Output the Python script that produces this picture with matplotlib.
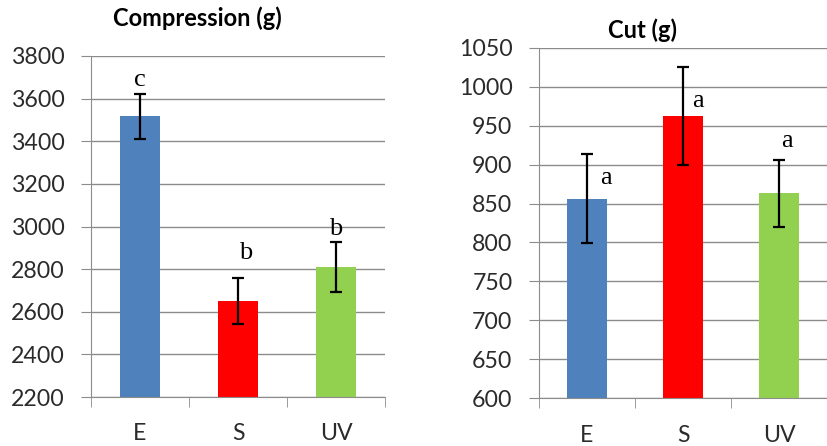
import numpy as np
import matplotlib.pyplot as plt

categorias = ['E', 'S', 'UV']
cores = ['#4F81BD', '#FF0000', '#92D050']

# Compressão (g)
compressao = [3517, 2650, 2810]
compressao_erro = [105, 107, 118]
compressao_letras = ['c', 'b', 'b']

# Corte (g)
corte = [856, 962, 863]
corte_erro = [57, 63, 43]
corte_letras = ['a', 'a', 'a']

W, H = 827, 446
fig = plt.figure(figsize=(W / 100, H / 100), dpi=100)
fonte = 'Lato'
grade = '#8c8c8c'


def eixo(rect, valores, erros, ymin, ymax, passo, xmax):
    ax = fig.add_axes(rect)
    x = np.arange(len(valores)) + 0.5
    ax.bar(x, valores, width=0.41, color=cores, zorder=2)
    ax.errorbar(x, valores, yerr=erros, fmt='none', ecolor='black',
                elinewidth=1.6, capsize=4, capthick=1.6, zorder=3)
    ax.set_ylim(ymin, ymax)
    ax.set_xlim(0, xmax)
    ax.set_yticks(np.arange(ymin, ymax + 1, passo))
    ax.yaxis.grid(True, color=grade, linewidth=1, zorder=0)
    ax.set_axisbelow(True)
    ax.set_xticks(x)
    ax.set_xticklabels(categorias)
    ax.set_xticks(np.arange(0, 4), minor=True)
    ax.tick_params(axis='x', which='major', length=0, pad=19)
    ax.tick_params(axis='x', which='minor', length=7, color=grade, direction='out')
    ax.tick_params(axis='y', length=7, color=grade, pad=12)
    for lab in ax.get_xticklabels() + ax.get_yticklabels():
        lab.set_fontfamily(fonte)
        lab.set_fontsize(16.7)
        lab.set_color('#2b2b2b')
    for s in ['top', 'right']:
        ax.spines[s].set_visible(False)
    ax.spines['left'].set_color(grade)
    ax.spines['bottom'].set_color(grade)
    ax.spines['bottom'].set_zorder(4)
    return ax, x


ax1, x1 = eixo([91 / W, 1 - 397 / H, 294 / W, 341 / H],
               compressao, compressao_erro, 2200, 3800, 200, 3)
dx1 = [0.0, 0.08, 0.0]
dy1 = [39, 89, 31]
for xi, v, e, t, a, b in zip(x1, compressao, compressao_erro, compressao_letras, dx1, dy1):
    ax1.text(xi + a, v + e + b, t, ha='center', va='baseline',
             family='Liberation Serif', fontsize=19)

ax2, x2 = eixo([539 / W, 1 - 398.3 / H, 288 / W, 350.6 / H],
               corte, corte_erro, 600, 1050, 50, 288 / 98)
dx2 = [0.2, 0.16, 0.08]
dy2 = [-38, -51, 16]
for xi, v, e, t, a, b in zip(x2, corte, corte_erro, corte_letras, dx2, dy2):
    ax2.text(xi + a, v + e + b, t, ha='center', va='baseline',
             family='Liberation Serif', fontsize=19)

fig.text(197 / W, 1 - 18 / H, 'Compression (g)', ha='center', va='center',
         fontweight='bold', family=fonte, fontsize=17)
fig.text(643 / W, 1 - 30 / H, 'Cut (g)', ha='center', va='center',
         fontweight='bold', family=fonte, fontsize=17)

fig.savefig('out.png', dpi=100)
